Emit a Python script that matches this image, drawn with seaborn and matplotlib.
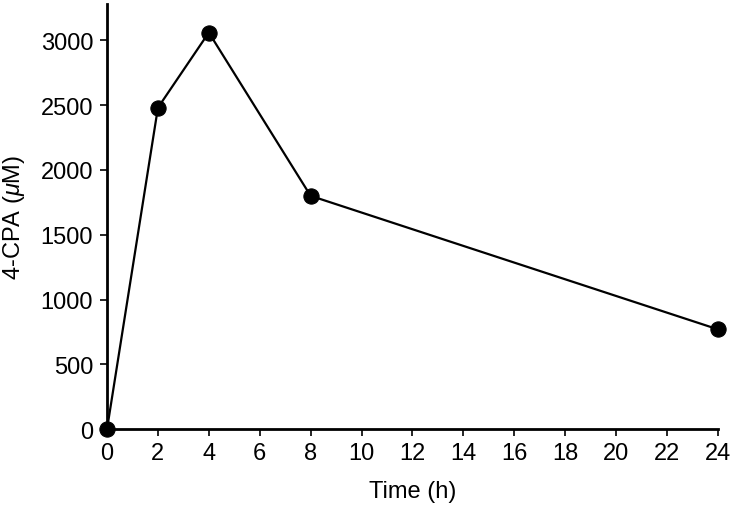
import matplotlib
matplotlib.use("Agg")
import matplotlib.pyplot as plt
import seaborn as sns
import pandas as pd

time_h = [0, 2, 4, 8, 24]
cpa_uM = [0, 2480, 3060, 1800, 770]
x_ticks = [0, 2, 4, 6, 8, 10, 12, 14, 16, 18, 20, 22, 24]
y_ticks = [0, 500, 1000, 1500, 2000, 2500, 3000]

sns.set_style("ticks")
plt.rcParams['font.family'] = ['Liberation Sans', 'DejaVu Sans']
plt.rcParams['mathtext.fontset'] = 'custom'
plt.rcParams['mathtext.it'] = 'Liberation Sans:italic'
plt.rcParams['mathtext.rm'] = 'Liberation Sans'
plt.rcParams['text.color'] = 'black'
plt.rcParams['axes.labelcolor'] = 'black'
plt.rcParams['xtick.color'] = 'black'
plt.rcParams['ytick.color'] = 'black'

df = pd.DataFrame({"Time": time_h, "CPA": cpa_uM})

fig = plt.figure(figsize=(7.31, 5.06), dpi=100)
ax = fig.add_axes([0.1464, 0.150, 0.8356, 0.840])

sns.lineplot(data=df, x="Time", y="CPA", ax=ax, color="black", linewidth=1.6,
             marker="o", markersize=11, markeredgecolor="black",
             markerfacecolor="black", clip_on=False, zorder=3)

ax.set_xlim(0, 24)
ax.set_ylim(0, 3280)
ax.set_xticks(x_ticks)
ax.set_yticks(y_ticks)
ax.set_xlabel("Time (h)", fontsize=17, labelpad=12)
ax.set_ylabel(r"4-CPA ($\mu$M)", fontsize=17)
ax.yaxis.set_label_coords(-0.131, 0.5)
ax.tick_params(axis="both", labelsize=17, length=5, width=1.2,
               direction="out", pad=4)
ax.tick_params(axis="y", pad=5)
for side in ["top", "right"]:
    ax.spines[side].set_visible(False)
for side in ["left", "bottom"]:
    ax.spines[side].set_linewidth(2)
    ax.spines[side].set_color("black")

fig.savefig("out.png", dpi=100)
